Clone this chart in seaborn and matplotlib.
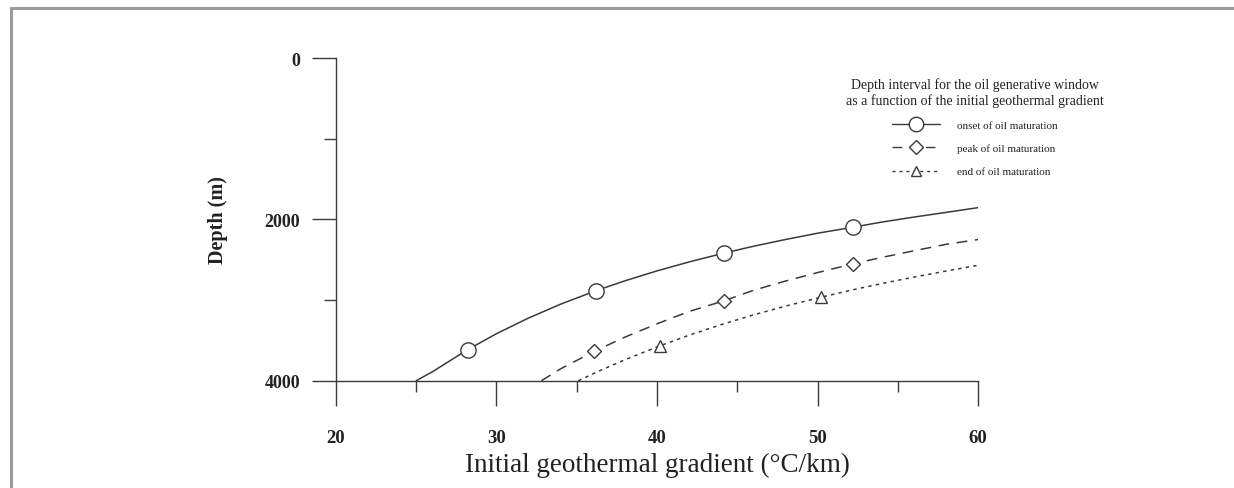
import matplotlib
matplotlib.use("Agg")
import matplotlib.pyplot as plt
from matplotlib.lines import Line2D
from matplotlib.ticker import MultipleLocator
import seaborn as sns
import pandas as pd

# ---- data ----
onset_curve_x = [25.0, 26.0, 27.0, 28.2, 30.0, 32.0, 34.0, 36.2, 38.0, 40.0, 42.0, 44.2,
                 46.0, 48.0, 50.0, 52.2, 54.0, 56.0, 58.0, 60.0]
onset_curve_y = [4000, 3890, 3765, 3616, 3417, 3223, 3051, 2884, 2762, 2639, 2528, 2417,
                 2334, 2250, 2172, 2098, 2034, 1972, 1914, 1855]
peak_curve_x = [32.8, 34.0, 36.1, 38.0, 40.0, 42.0, 44.2, 46.0, 48.0, 50.0, 52.2, 54.0,
                56.0, 58.0, 60.0]
peak_curve_y = [4000, 3852, 3635, 3460, 3295, 3142, 3008, 2880, 2765, 2660, 2553, 2472,
                2390, 2310, 2250]
end_curve_x = [35.1, 36.5, 38.0, 40.2, 42.0, 44.0, 46.0, 48.0, 50.2, 52.0, 54.0, 56.0,
               58.0, 60.0]
end_curve_y = [4000, 3870, 3740, 3566, 3436, 3305, 3185, 3076, 2966, 2882, 2796, 2716,
               2641, 2570]

onset_pts_x = [28.2, 36.2, 44.2, 52.2]
onset_pts_y = [3616, 2884, 2417, 2098]
peak_pts_x = [36.1, 44.2, 52.2]
peak_pts_y = [3635, 3008, 2553]
end_pts_x = [40.2, 50.2]
end_pts_y = [3566, 2966]

series_labels = ["onset of oil maturation", "peak of oil maturation", "end of oil maturation"]
legend_title = "Depth interval for the oil generative window\nas a function of the initial geothermal gradient"
x_label = "Initial geothermal gradient (°C/km)"
y_label = "Depth (m)"
x_ticks = [20, 30, 40, 50, 60]
y_ticks = [0, 2000, 4000]

# ---- styling ----
sns.set_theme(style="white")
plt.rcParams["font.family"] = ["Liberation Serif", "DejaVu Serif"]

ink = "#3a3a3a"
curves = pd.concat([
    pd.DataFrame({"x": onset_curve_x, "y": onset_curve_y, "s": series_labels[0]}),
    pd.DataFrame({"x": peak_curve_x, "y": peak_curve_y, "s": series_labels[1]}),
    pd.DataFrame({"x": end_curve_x, "y": end_curve_y, "s": series_labels[2]}),
])
points = [
    (onset_pts_x, onset_pts_y, "o", 11),
    (peak_pts_x, peak_pts_y, "D", 7.5),
    (end_pts_x, end_pts_y, "^", 8),
]
dashes = {series_labels[0]: "", series_labels[1]: (7, 5), series_labels[2]: (2.2, 2.8)}
ls_map = ["-", (0, (7, 5)), (0, (2.2, 2.8))]

fig = plt.figure(figsize=(12.34, 4.89), dpi=100)
ax = fig.add_axes([336 / 1234, 1 - 381.7 / 489, (978 - 336) / 1234, (381.7 - 59) / 489])

sns.lineplot(data=curves, x="x", y="y", hue="s", style="s", dashes=dashes,
             palette=[ink] * 3, linewidth=1.1, sort=False, estimator=None,
             legend=False, ax=ax)
for (px, py, mk, ms) in points:
    ax.plot(px, py, linestyle="none", marker=mk, ms=ms, mfc="white",
            mec=ink, mew=1.0, zorder=3)

ax.set_xlim(20, 60)
ax.set_ylim(4000, 0)
ax.set_xticks(x_ticks)
ax.set_yticks(y_ticks)
ax.xaxis.set_minor_locator(MultipleLocator(5))
ax.yaxis.set_minor_locator(MultipleLocator(1000))

for s in ["top", "right"]:
    ax.spines[s].set_visible(False)
for s in ["left", "bottom"]:
    ax.spines[s].set_color(ink)
    ax.spines[s].set_linewidth(1.0)

ax.tick_params(axis="y", which="major", direction="out", length=17, width=1.0,
               color=ink, pad=9, left=True, labelsize=13, labelcolor="#222")
ax.tick_params(axis="y", which="minor", direction="out", length=8.5, width=1.0,
               color=ink, left=True)
ax.tick_params(axis="x", which="major", direction="out", length=18, width=1.0,
               color=ink, pad=17, bottom=True, labelsize=13.5, labelcolor="#222")
ax.tick_params(axis="x", which="minor", direction="out", length=8, width=1.0,
               color=ink, bottom=True)
for t in ax.get_yticklabels() + ax.get_xticklabels():
    t.set_fontweight("bold")

ax.set_xlabel(x_label, fontsize=19.5, color="#222", labelpad=4)
ax.set_ylabel(y_label, fontsize=14.5, fontweight="bold", color="#222", labelpad=26)

handles = [Line2D([], [], color=ink, lw=1.0, ls=ls_map[i], marker=points[i][2],
                  ms=points[i][3] * 0.95, mfc="white", mec=ink, mew=1.0)
           for i in range(3)]
leg = ax.legend(handles, series_labels, title=legend_title, frameon=False,
                loc="upper center", bbox_to_anchor=(975 / 1234, 1 - 74 / 489),
                bbox_transform=fig.transFigure, fontsize=8, title_fontsize=10,
                handlelength=4.3, handletextpad=1.5, labelspacing=1.2,
                borderaxespad=0)
leg.get_title().set_multialignment("center")
leg.get_title().set_color("#222")
for t in leg.get_texts():
    t.set_color("#222")

# light grey frame on top and left edges of the image
fig.add_artist(Line2D([11 / 1234, 1], [1 - 9 / 489, 1 - 9 / 489],
                      transform=fig.transFigure, color="#9a9a9a", lw=2.2))
fig.add_artist(Line2D([11 / 1234, 11 / 1234], [0, 1 - 9 / 489],
                      transform=fig.transFigure, color="#9a9a9a", lw=2.2))

fig.savefig("out.png", dpi=100)
